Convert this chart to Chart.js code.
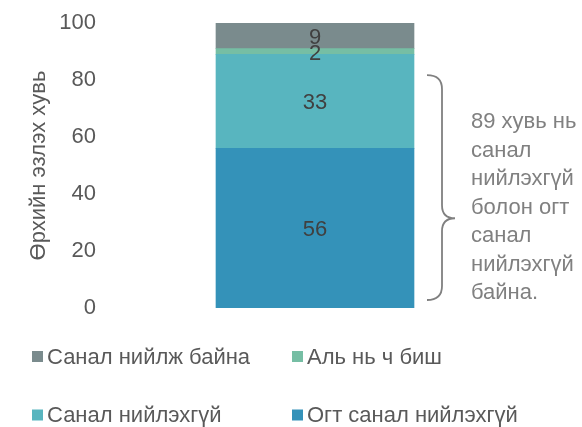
<!DOCTYPE html>
<html>
<head>
<meta charset="utf-8">
<script src="https://cdn.jsdelivr.net/npm/chart.js@4/dist/chart.umd.min.js"></script>
<style>
  html, body { margin: 0; padding: 0; background: #fff; }
  #wrap { width: 582px; height: 427px; position: relative; }
</style>
</head>
<body>
<div id="wrap"><canvas id="c" width="582" height="427"></canvas></div>
<script>
// Series, bottom of the stack first.
const categories = [''];
const seriesNames = ['Огт санал нийлэхгүй', 'Санал нийлэхгүй', 'Аль нь ч биш', 'Санал нийлж байна'];
const seriesValues = [[56], [33], [2], [9]];
const seriesColors = ['#3492B9', '#58B5BF', '#76BEA4', '#7A8B8D'];
// Legend reads top of the stack first.
const legendOrder = [3, 2, 1, 0];
const yTicks = [0, 20, 40, 60, 80, 100];
const yTitle = 'Өрхийн эзлэх хувь';
const noteLines = ['89 хувь нь', 'санал', 'нийлэхгүй', 'болон огт', 'санал', 'нийлэхгүй', 'байна.'];

const FONT = '"Liberation Sans", Arial, sans-serif';

// Value labels in the middle of each segment.
const segmentLabels = {
    id: 'segmentLabels',
    afterDatasetsDraw(chart) {
        const ctx = chart.ctx;
        ctx.save();
        ctx.font = `22px ${FONT}`;
        ctx.fillStyle = '#404040';
        ctx.textAlign = 'center';
        ctx.textBaseline = 'middle';
        chart.data.datasets.forEach((ds, i) => {
            chart.getDatasetMeta(i).data.forEach((bar, j) => {
                const { x, y, base } = bar.getProps(['x', 'y', 'base'], true);
                ctx.fillText(String(ds.data[j]), x, (y + base) / 2 + 2);
            });
        });
        ctx.restore();
    },
};

// Curly brace and note on the right, legend underneath.
const extras = {
    id: 'extras',
    afterDraw(chart) {
        const ctx = chart.ctx;
        const ys = chart.scales.y;
        const top = ys.getPixelForValue(81.7);
        const bot = ys.getPixelForValue(2.8);
        const tip = ys.getPixelForValue(31.5);
        const x0 = 427, x1 = 442, x2 = 455, r = 14;

        ctx.save();
        ctx.strokeStyle = '#808080';
        ctx.lineWidth = 1.8;
        ctx.beginPath();
        ctx.moveTo(x0, top);
        ctx.quadraticCurveTo(x1, top, x1, top + r);
        ctx.lineTo(x1, tip - r + 1);
        ctx.quadraticCurveTo(x1, tip, x2, tip);
        ctx.quadraticCurveTo(x1, tip, x1, tip + r - 1);
        ctx.lineTo(x1, bot - r);
        ctx.quadraticCurveTo(x1, bot, x0, bot);
        ctx.stroke();

        ctx.font = `22px ${FONT}`;
        ctx.fillStyle = '#808080';
        ctx.textAlign = 'left';
        ctx.textBaseline = 'middle';
        noteLines.forEach((t, i) => ctx.fillText(t, 471, 122 + i * 28.5));

        // legend, two columns by two rows
        const cols = [32, 292];
        const rows = [356.5, 415];
        legendOrder.forEach((si, k) => {
            const cx = cols[k % 2];
            const cy = rows[Math.floor(k / 2)];
            ctx.fillStyle = seriesColors[si];
            ctx.fillRect(cx, cy - 5.5, 11, 11);
            ctx.fillStyle = '#595959';
            ctx.fillText(seriesNames[si], cx + 15, cy + 1);
        });
        ctx.restore();
    },
};

new Chart(document.getElementById('c'), {
    type: 'bar',
    data: {
        labels: categories,
        datasets: seriesNames.map((name, i) => ({
            label: name,
            data: seriesValues[i],
            backgroundColor: seriesColors[i],
            borderWidth: 0,
            barThickness: 198,
        })),
    },
    options: {
        responsive: false,
        animation: false,
        events: [],
        layout: { padding: { top: 23, bottom: 119, left: 0, right: 57 } },
        plugins: { legend: { display: false }, tooltip: { enabled: false } },
        scales: {
            x: { stacked: true, display: false },
            y: {
                stacked: true,
                min: 0,
                max: 100,
                grid: { display: false },
                border: { display: false },
                afterBuildTicks: axis => { axis.ticks = yTicks.map(v => ({ value: v })); },
                afterFit: axis => { axis.width = 105; },
                ticks: { color: '#595959', font: { family: FONT, size: 22 }, padding: 1 },
                title: {
                    display: true,
                    text: yTitle,
                    color: '#595959',
                    font: { family: FONT, size: 22 },
                    padding: { top: 26, bottom: 0 },
                },
            },
        },
    },
    plugins: [segmentLabels, extras],
});
</script>
</body>
</html>
